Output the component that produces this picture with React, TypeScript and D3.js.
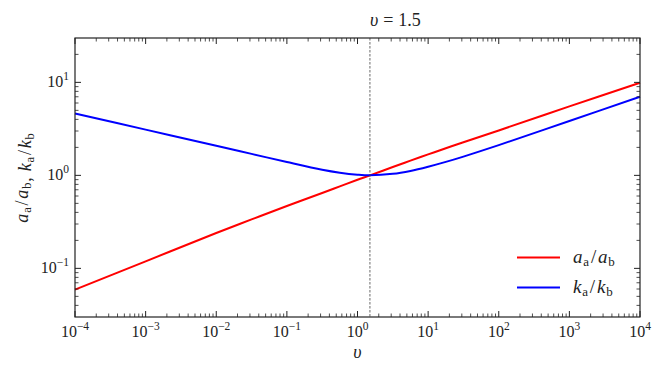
import React from "react";
import * as d3 from "d3";

const vValues = [1e-4, 1e-3, 1e-2, 0.0316, 0.1, 0.316, 0.562, 1, 1.5, 3.16, 5.62, 10, 17.8, 31.6, 100, 1000, 1e4];
const aRatio = [0.059, 0.119, 0.24, 0.336, 0.468, 0.646, 0.762, 0.897, 1.0, 1.23, 1.44, 1.68, 1.96, 2.27, 3.04, 5.52, 9.9];
const kRatio = [4.63, 3.105, 2.08, 1.702, 1.39, 1.148, 1.067, 1.016, 1.0, 1.038, 1.117, 1.239, 1.396, 1.592, 2.113, 3.846, 7.0];
const xTickExps = [-4, -3, -2, -1, 0, 1, 2, 3, 4];
const yTickExps = [-1, 0, 1];
const vMarker = 1.5;

const W = 664, H = 373;
const M = { left: 75, right: 640, top: 38, bottom: 317 };
const FONT = "Liberation Serif, Times New Roman, Tinos, DejaVu Serif, Noto Serif, serif";

function Pow10({ x, y, exp, anchor }: { x: number; y: number; exp: number; anchor: string }) {
  const e = exp < 0 ? "\u2212" + Math.abs(exp) : String(exp);
  return (
    <text x={x} y={y} textAnchor={anchor} style={{ fontFamily: FONT, fontSize: 16 }} fill="#222">
      10<tspan style={{ fontSize: 11.5 }} dy={-7}>{e}</tspan>
    </text>
  );
}

function Ratio({ s, sub }: { s: string; sub: number }) {
  return (
    <>
      <tspan style={{ fontStyle: "italic" }}>{s}</tspan>
      <tspan style={{ fontSize: sub }} dy={3}>a</tspan>
      <tspan dy={-3} dx={1}>/</tspan>
      <tspan style={{ fontStyle: "italic" }} dx={1}>{s}</tspan>
      <tspan style={{ fontSize: sub }} dy={3}>b</tspan>
      <tspan dy={-3}></tspan>
    </>
  );
}

export default function App() {
  const x = d3.scaleLog().domain([1e-4, 1e4]).range([M.left, M.right]);
  const y = d3.scaleLog().domain([0.03, 30]).range([M.bottom, M.top]);

  const line = (vals: number[]) =>
    d3
      .line<number>()
      .x((_, i) => x(vValues[i]))
      .y((d) => y(d))
      .curve(d3.curveCatmullRom.alpha(0.5))(vals) as string;

  const xMinor: number[] = [];
  for (let e = -4; e < 4; e++) for (let m = 2; m <= 9; m++) xMinor.push(m * Math.pow(10, e));
  const yMinor: number[] = [];
  for (let e = -2; e < 2; e++)
    for (let m = 2; m <= 9; m++) {
      const v = m * Math.pow(10, e);
      if (v > 0.03 && v < 30) yMinor.push(v);
    }

  const maj = 6, mn = 3.5;
  const tickStroke = "#222";

  return (
    <div style={{ position: "absolute", left: 0, top: 0 }}>
      <svg width={W} height={H} style={{ display: "block", background: "#fff", fontFamily: FONT }}>
        <path d={line(aRatio)} fill="none" stroke="#ff0000" strokeWidth={2} />
        <path d={line(kRatio)} fill="none" stroke="#0000ff" strokeWidth={2} />
        <line x1={x(vMarker)} x2={x(vMarker)} y1={M.top} y2={M.bottom} stroke="#444" strokeWidth={0.8} strokeDasharray="2.5,1.5" />

        {xTickExps.map((e) => {
          const px = x(Math.pow(10, e));
          return (
            <g key={"xt" + e}>
              <line x1={px} x2={px} y1={M.bottom} y2={M.bottom - maj} stroke={tickStroke} />
              <line x1={px} x2={px} y1={M.top} y2={M.top + maj} stroke={tickStroke} />
              <Pow10 x={px} y={337} exp={e} anchor="middle" />
            </g>
          );
        })}
        {xMinor.map((v, i) => {
          const px = x(v);
          return (
            <g key={"xm" + i}>
              <line x1={px} x2={px} y1={M.bottom} y2={M.bottom - mn} stroke={tickStroke} strokeWidth={0.8} />
              <line x1={px} x2={px} y1={M.top} y2={M.top + mn} stroke={tickStroke} strokeWidth={0.8} />
            </g>
          );
        })}
        {yTickExps.map((e) => {
          const py = y(Math.pow(10, e));
          return (
            <g key={"yt" + e}>
              <line x1={M.left} x2={M.left + maj} y1={py} y2={py} stroke={tickStroke} />
              <line x1={M.right} x2={M.right - maj} y1={py} y2={py} stroke={tickStroke} />
              <Pow10 x={69} y={py + 5} exp={e} anchor="end" />
            </g>
          );
        })}
        {yMinor.map((v, i) => {
          const py = y(v);
          return (
            <g key={"ym" + i}>
              <line x1={M.left} x2={M.left + mn} y1={py} y2={py} stroke={tickStroke} strokeWidth={0.8} />
              <line x1={M.right} x2={M.right - mn} y1={py} y2={py} stroke={tickStroke} strokeWidth={0.8} />
            </g>
          );
        })}

        <rect x={M.left} y={M.top} width={M.right - M.left} height={M.bottom - M.top} fill="none" stroke="#222" strokeWidth={1.2} />

        <text x={x(vMarker)} y={26} style={{ fontFamily: FONT, fontSize: 18 }} fill="#222">
          <tspan style={{ fontStyle: "italic" }}>υ</tspan>
          <tspan dx={5}>=</tspan>
          <tspan dx={5}>1.5</tspan>
        </text>

        <text x={(M.left + M.right) / 2} y={358} textAnchor="middle" style={{ fontFamily: FONT, fontSize: 18, fontStyle: "italic" }} fill="#222">
          υ
        </text>

        <text transform={`translate(28,${(M.top + M.bottom) / 2}) rotate(-90)`} textAnchor="middle" style={{ fontFamily: FONT, fontSize: 18, letterSpacing: 0.8 }} fill="#222">
          <Ratio s="a" sub={12.5} />
          <tspan>, </tspan>
          <Ratio s="k" sub={12.5} />
        </text>

        <line x1={517} x2={560} y1={257.5} y2={257.5} stroke="#ff0000" strokeWidth={2} />
        <text x={573} y={263} style={{ fontFamily: FONT, fontSize: 19, letterSpacing: 0.8 }} fill="#222">
          <Ratio s="a" sub={13} />
        </text>
        <line x1={517} x2={560} y1={287.5} y2={287.5} stroke="#0000ff" strokeWidth={2} />
        <text x={573} y={293} style={{ fontFamily: FONT, fontSize: 19, letterSpacing: 0.8 }} fill="#222">
          <Ratio s="k" sub={13} />
        </text>
      </svg>
    </div>
  );
}
